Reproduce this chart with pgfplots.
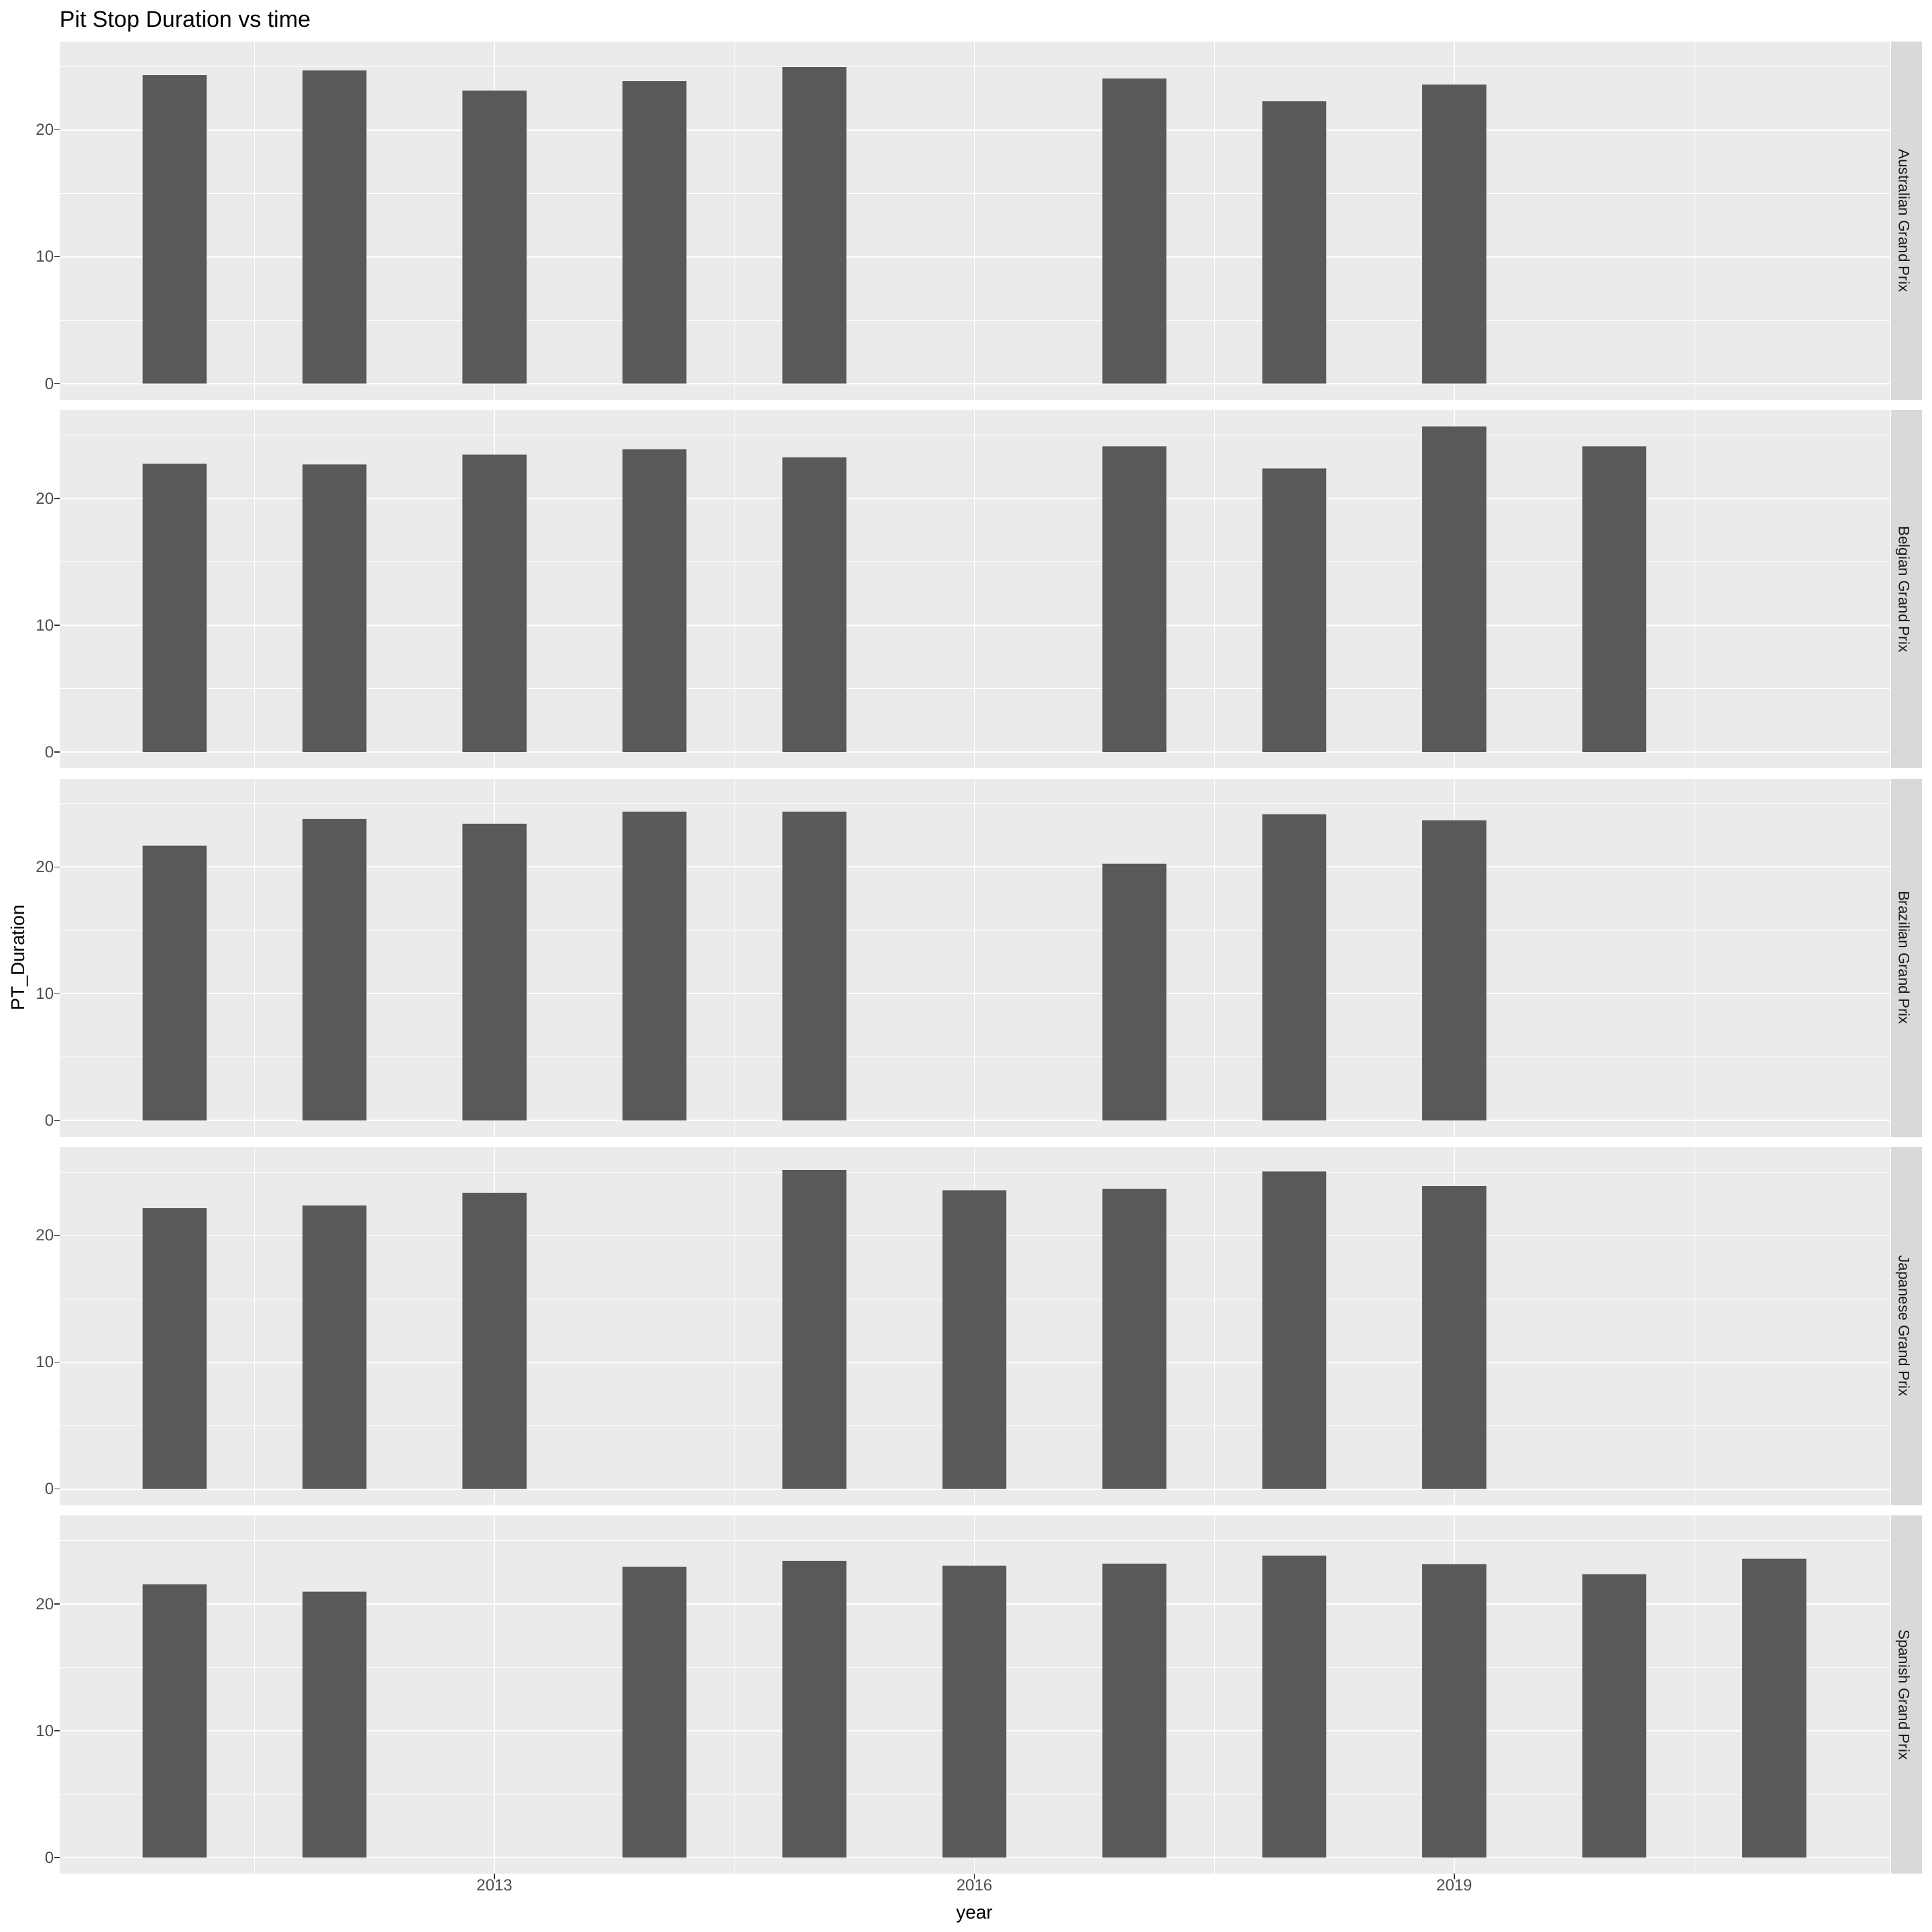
\documentclass[border=0pt]{standalone}
\usepackage{fontspec}
\setmainfont{Liberation Sans}
\usepackage{pgfplots}
\pgfplotsset{compat=1.18}
\definecolor{panelbg}{HTML}{EBEBEB}
\definecolor{barcol}{HTML}{595959}
\definecolor{stripbg}{HTML}{D9D9D9}
\definecolor{ticklabcol}{HTML}{4D4D4D}
\definecolor{tickcol}{HTML}{333333}
\definecolor{striptext}{HTML}{1A1A1A}
\pgfplotsset{
  panel/.style={
    scale only axis, width=1364pt, height=267pt, anchor=north west,
    xmin=2010.28, xmax=2021.72, ymin=-1.284, ymax=26.964,
    axis background/.style={fill=panelbg},
    axis line style={draw=none},
    xtick={2013,2016,2019}, minor xtick={2011.5,2014.5,2017.5,2020.5},
    ytick={0,10,20}, minor ytick={5,15,25},
    grid=both,
    major grid style={white, line width=0.9pt},
    minor grid style={white, line width=0.45pt},
    tick align=outside, major tick length=4pt, minor tick length=0pt,
    xtick pos=left, ytick pos=left,
    every tick/.style={color=tickcol, line width=0.7pt},
    ticklabel style={font=\fontsize{12}{14}\selectfont, text=ticklabcol},
    /pgf/number format/assume math mode=true,
    /pgf/number format/1000 sep={},
    yticklabel style={anchor=east, inner sep=0pt},
    xticklabel style={anchor=north, inner sep=0pt},
    ybar, bar width=0.4, bar shift=0pt,
  },
  toppanel/.style={panel, xticklabels={}, xtick style={draw=none}},
}
\newcommand{\strip}[2]{%
  \fill[stripbg] (1409.5pt,#1) rectangle ++(23pt,-267pt);
  \node[rotate=-90, anchor=base, text=striptext, font=\fontsize{11.2}{13}\selectfont, inner sep=0pt]
    at (1415.3pt,#1-133.5pt) {#2};}
\begin{document}
\begin{tikzpicture}
\path[use as bounding box] (0,0) rectangle (1440pt,-1440pt);

\begin{axis}[toppanel, at={(44.25pt,-31pt)}]
\addplot[fill=barcol, draw=none] coordinates {
(2011,24.31) (2012,24.68) (2013,23.10) (2014,23.84) (2015,24.95)
(2017,24.05) (2018,22.25) (2019,23.57)};
\end{axis}
\strip{-31pt}{Australian Grand Prix}

\begin{axis}[toppanel, at={(44.25pt,-305.65pt)}]
\addplot[fill=barcol, draw=none] coordinates {
(2011,22.73) (2012,22.67) (2013,23.46) (2014,23.88) (2015,23.25)
(2017,24.10) (2018,22.36) (2019,25.68) (2020,24.10)};
\end{axis}
\strip{-305.65pt}{Belgian Grand Prix}

\begin{axis}[toppanel, at={(44.25pt,-580.3pt)}]
\addplot[fill=barcol, draw=none] coordinates {
(2011,21.67) (2012,23.78) (2013,23.41) (2014,24.36) (2015,24.36)
(2017,20.25) (2018,24.15) (2019,23.67)};
\end{axis}
\strip{-580.3pt}{Brazilian Grand Prix}

\begin{axis}[toppanel, at={(44.25pt,-854.95pt)}]
\addplot[fill=barcol, draw=none] coordinates {
(2011,22.14) (2012,22.35) (2013,23.35) (2015,25.15) (2016,23.56)
(2017,23.67) (2018,25.04) (2019,23.88)};
\end{axis}
\strip{-854.95pt}{Japanese Grand Prix}

\begin{axis}[panel, at={(44.25pt,-1129.6pt)}]
\addplot[fill=barcol, draw=none] coordinates {
(2011,21.55) (2012,20.97) (2014,22.92) (2015,23.39) (2016,23.02)
(2017,23.18) (2018,23.81) (2019,23.13) (2020,22.34) (2021,23.56)};
\end{axis}
\strip{-1129.6pt}{Spanish Grand Prix}

\node[anchor=base west, inner sep=0pt, font=\fontsize{17}{20}\selectfont] at (44.25pt,-20pt) {Pit Stop Duration vs time};
\node[anchor=base, inner sep=0pt, font=\fontsize{14}{16}\selectfont] at (726.25pt,-1430pt) {year};
\node[anchor=base, rotate=90, inner sep=0pt, font=\fontsize{14}{16}\selectfont] at (18.3pt,-713.8pt) {PT\_Duration};
\end{tikzpicture}
\end{document}
